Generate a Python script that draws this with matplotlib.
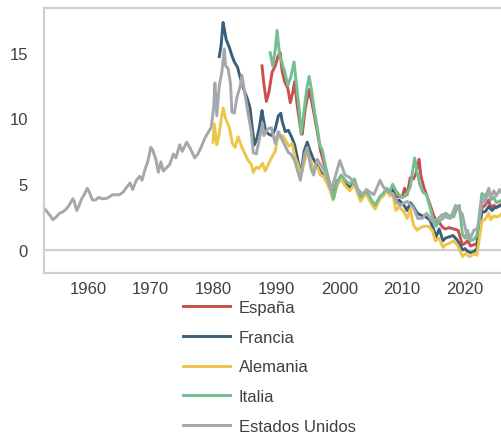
import numpy as np
import matplotlib.pyplot as plt

plt.rcParams['font.family'] = ['Liberation Sans', 'DejaVu Sans']

# rentabilidad del bono a 10 años (%)
us_t = [1953.0, 1953.5, 1954.0, 1954.4, 1954.9, 1955.5, 1956.0, 1956.5, 1957.0, 1957.6,
        1957.8, 1958.2, 1958.6, 1959.0, 1959.5, 1959.9, 1960.3, 1960.7, 1961.2, 1961.7,
        1962.2, 1962.8, 1963.3, 1963.9, 1964.5, 1965.0, 1965.6, 1966.2, 1966.7, 1967.1,
        1967.7, 1968.2, 1968.6, 1969.0, 1969.5, 1970.0, 1970.3, 1970.8, 1971.2, 1971.6,
        1972.0, 1972.6, 1973.0, 1973.6, 1974.0, 1974.6, 1975.0, 1975.7, 1976.3, 1977.0,
        1977.5, 1978.0, 1978.6, 1979.2, 1979.6, 1980.0, 1980.2, 1980.5, 1980.9, 1981.3,
        1981.7, 1981.9, 1982.3, 1982.7, 1982.9, 1983.3, 1983.7, 1984.2, 1984.5, 1985.0,
        1985.5, 1986.0, 1986.3, 1986.8, 1987.3, 1987.8, 1988.0, 1988.6, 1989.2, 1989.8,
        1990.3, 1990.8, 1991.3, 1991.9, 1992.3, 1992.9, 1993.5, 1993.8, 1994.5, 1994.9,
        1995.5, 1995.9, 1996.5, 1997.0, 1997.5, 1998.0, 1998.7, 1999.5, 2000.1, 2000.9,
        2001.7, 2002.3, 2002.8, 2003.8, 2004.3, 2004.9, 2005.5, 2006.5, 2007.0, 2007.6,
        2008.6, 2009.2, 2009.7, 2010.8, 2011.2, 2011.8, 2012.5, 2013.2, 2013.9, 2014.8,
        2015.5, 2016.4, 2017.0, 2017.7, 2018.5, 2019.6, 2020.0, 2020.4, 2020.8, 2021.4,
        2021.9, 2022.3, 2022.8, 2023.2, 2023.8, 2024.1, 2024.6, 2025.0, 2025.5, 2025.9]
us_v = [3.2, 2.9, 2.6, 2.3, 2.5, 2.8, 2.9, 3.1, 3.4, 3.9,
        3.7, 3.0, 3.4, 3.9, 4.3, 4.7, 4.3, 3.8, 3.8, 4.0,
        3.9, 3.9, 4.0, 4.2, 4.2, 4.2, 4.4, 4.8, 5.1, 4.6,
        5.3, 5.6, 5.3, 6.0, 6.7, 7.8, 7.6, 6.9, 5.9, 6.7,
        6.0, 6.3, 6.5, 7.3, 7.0, 8.0, 7.5, 8.2, 7.7, 7.0,
        7.3, 7.8, 8.5, 9.0, 9.3, 10.8, 12.7, 10.2, 12.5, 13.5,
        15.3, 14.0, 13.8, 12.6, 10.5, 10.4, 11.6, 12.4, 13.3, 11.8,
        10.3, 9.0, 7.4, 7.3, 8.5, 9.6, 8.7, 9.2, 9.3, 8.1,
        9.0, 8.5, 8.0, 7.4, 7.3, 6.8, 5.8, 5.3, 7.3, 7.8,
        6.2, 5.7, 6.9, 6.5, 6.1, 5.6, 4.5, 5.8, 6.8, 5.7,
        5.5, 5.1, 4.7, 4.2, 4.6, 4.4, 4.2, 5.3, 4.8, 4.5,
        4.2, 3.6, 3.4, 3.7, 3.5, 3.2, 2.4, 2.4, 2.8, 2.2,
        2.3, 2.7, 2.5, 2.4, 3.4, 2.7, 1.8, 0.9, 0.8, 1.5,
        1.6, 2.2, 4.0, 3.6, 4.7, 4.0, 4.5, 4.1, 4.6, 4.3]

fr_t = [1980.9, 1981.2, 1981.5, 1981.7, 1982.0, 1982.5, 1982.9, 1983.3, 1983.8, 1984.3,
        1984.8, 1985.3, 1985.8, 1986.1, 1986.5, 1986.9, 1987.3, 1987.7, 1987.9, 1988.3,
        1988.8, 1989.3, 1989.8, 1990.3, 1990.7, 1990.9, 1991.4, 1991.9, 1992.4, 1992.9,
        1993.5, 1993.9, 1994.4, 1994.9, 1995.3, 1995.8, 1996.5, 1997.2, 1997.9, 1998.5,
        1999.0, 1999.6, 2000.3, 2000.9, 2001.7, 2002.4, 2003.0, 2003.4, 2004.0, 2004.5,
        2005.0, 2005.7, 2006.5, 2007.0, 2007.5, 2008.1, 2008.5, 2009.0, 2009.5, 2010.3,
        2010.8, 2011.3, 2011.8, 2012.4, 2013.2, 2013.8, 2014.4, 2015.0, 2015.4, 2015.9,
        2016.5, 2016.9, 2017.5, 2018.1, 2018.7, 2019.1, 2019.6, 2020.0, 2020.4, 2020.9,
        2021.5, 2021.9, 2022.3, 2022.7, 2023.2, 2023.8, 2024.3, 2024.7, 2025.2, 2025.9]
fr_v = [14.7, 15.6, 17.3, 16.8, 16.0, 15.4, 14.8, 14.3, 13.9, 13.0,
        12.2, 11.6, 10.8, 9.5, 8.0, 8.5, 9.4, 10.6, 10.0, 9.0,
        8.8, 8.7, 9.2, 10.2, 10.4, 9.8, 9.0, 9.1, 8.6, 8.0,
        6.6, 5.8, 7.5, 8.2, 7.6, 7.0, 6.4, 5.8, 5.4, 4.8,
        3.9, 4.9, 5.5, 5.1, 4.7, 5.1, 4.3, 3.8, 4.3, 4.2,
        3.7, 3.3, 4.0, 4.2, 4.6, 4.3, 4.6, 3.6, 3.8, 3.4,
        3.0, 3.6, 3.3, 2.8, 2.6, 2.5, 2.3, 1.6, 1.0, 1.6,
        0.7, 0.9, 1.0, 1.1, 0.8, 0.5, 0.0, 0.1, -0.1, -0.2,
        -0.1, 0.1, 1.6, 2.9, 2.9, 3.3, 3.0, 3.2, 3.3, 3.4]

de_t = [1979.9, 1980.1, 1980.5, 1980.8, 1981.5, 1981.9, 1982.5, 1983.0, 1983.4, 1983.9,
        1984.5, 1985.0, 1985.5, 1986.0, 1986.3, 1986.8, 1987.2, 1987.8, 1988.2, 1988.7,
        1989.2, 1989.8, 1990.2, 1990.6, 1991.0, 1991.5, 1992.0, 1992.5, 1993.0, 1993.5,
        1993.9, 1994.5, 1994.9, 1995.4, 1995.9, 1996.5, 1997.0, 1997.5, 1998.0, 1998.5,
        1999.0, 1999.6, 2000.3, 2000.9, 2001.7, 2002.4, 2003.0, 2003.4, 2004.0, 2004.5,
        2005.0, 2005.7, 2006.5, 2007.0, 2007.5, 2008.1, 2008.5, 2009.0, 2009.5, 2010.3,
        2010.8, 2011.3, 2011.8, 2012.4, 2012.9, 2013.5, 2014.2, 2014.8, 2015.3, 2015.9,
        2016.5, 2016.9, 2017.5, 2018.2, 2018.9, 2019.6, 2020.0, 2020.4, 2020.8, 2021.4,
        2021.9, 2022.3, 2022.7, 2023.2, 2023.8, 2024.1, 2024.6, 2025.0, 2025.5, 2025.9]
de_v = [8.2, 9.6, 8.0, 8.6, 10.8, 10.0, 9.3, 8.1, 7.8, 8.6,
        7.8, 7.3, 6.8, 6.5, 5.9, 6.3, 6.2, 6.6, 6.0, 6.5,
        7.0, 7.5, 8.5, 8.6, 8.7, 8.3, 7.9, 8.1, 7.0, 6.4,
        5.6, 6.8, 7.4, 6.9, 6.1, 6.3, 5.7, 5.6, 5.1, 4.6,
        3.8, 4.9, 5.4, 4.9, 4.5, 5.0, 4.2, 3.7, 4.2, 4.1,
        3.6, 3.1, 3.9, 4.1, 4.5, 4.1, 4.3, 3.0, 3.3, 2.9,
        2.4, 3.1, 1.9, 1.5, 1.7, 1.8, 1.8, 1.5, 0.7, 0.9,
        0.2, 0.4, 0.5, 0.7, 0.3, -0.5, -0.3, -0.4, -0.5, -0.3,
        -0.4, 0.9, 2.2, 2.3, 2.8, 2.3, 2.6, 2.5, 2.6, 2.8]

es_t = [1987.7, 1988.0, 1988.4, 1988.8, 1989.3, 1989.8, 1990.3, 1990.6, 1990.9, 1991.3,
        1991.8, 1992.2, 1992.6, 1992.9, 1993.3, 1993.8, 1994.1, 1994.6, 1995.2, 1995.6,
        1996.0, 1996.5, 1997.0, 1997.5, 1998.0, 1998.5, 1999.0, 1999.6, 2000.3, 2000.9,
        2001.7, 2002.4, 2003.0, 2003.4, 2004.0, 2004.5, 2005.0, 2005.7, 2006.5, 2007.0,
        2007.5, 2008.1, 2008.5, 2009.0, 2009.5, 2010.0, 2010.4, 2010.8, 2011.3, 2011.8,
        2012.2, 2012.7, 2013.0, 2013.5, 2013.9, 2014.4, 2014.9, 2015.4, 2015.9, 2016.5,
        2016.9, 2017.5, 2018.2, 2018.9, 2019.6, 2020.0, 2020.4, 2020.9, 2021.4, 2021.9,
        2022.3, 2022.7, 2023.2, 2023.8, 2024.1, 2024.6, 2025.0, 2025.5, 2025.9]
es_v = [14.0, 12.6, 11.3, 12.0, 13.5, 14.0, 14.8, 15.0, 13.6, 12.8,
        12.3, 11.2, 12.0, 12.8, 11.0, 9.3, 8.8, 10.8, 12.2, 11.3,
        10.3, 9.0, 7.6, 6.7, 5.8, 5.0, 4.2, 5.2, 5.6, 5.3,
        4.9, 5.3, 4.4, 3.9, 4.3, 4.3, 3.8, 3.3, 4.0, 4.2,
        4.6, 4.3, 4.8, 4.0, 4.1, 4.0, 4.7, 4.2, 5.5, 5.4,
        5.8, 6.9, 5.6, 4.7, 4.2, 3.5, 2.8, 2.2, 2.1, 1.7,
        1.6, 1.7, 1.6, 1.5, 0.4, 0.5, 0.7, 0.3, 0.4, 0.5,
        2.0, 3.2, 3.4, 3.8, 3.2, 3.4, 3.2, 3.4, 3.5]

it_t = [1989.0, 1989.4, 1989.8, 1990.1, 1990.5, 1990.9, 1991.3, 1991.8, 1992.3, 1992.8,
        1993.2, 1993.6, 1993.9, 1994.4, 1994.8, 1995.2, 1995.6, 1996.0, 1996.5, 1996.9,
        1997.3, 1997.8, 1998.3, 1998.8, 1999.1, 1999.6, 2000.3, 2000.9, 2001.7, 2002.4,
        2003.0, 2003.4, 2004.0, 2004.5, 2005.0, 2005.7, 2006.5, 2007.0, 2007.5, 2008.1,
        2008.5, 2009.0, 2009.5, 2010.0, 2010.5, 2010.9, 2011.3, 2011.6, 2012.0, 2012.4,
        2012.8, 2013.3, 2013.9, 2014.3, 2014.9, 2015.4, 2015.9, 2016.5, 2016.9, 2017.5,
        2018.2, 2018.7, 2019.1, 2019.6, 2020.0, 2020.4, 2020.9, 2021.4, 2021.9, 2022.3,
        2022.7, 2023.2, 2023.8, 2024.1, 2024.6, 2025.0, 2025.5, 2025.9]
it_v = [15.0, 14.0, 15.2, 16.7, 14.8, 14.2, 13.6, 12.5, 13.2, 14.3,
        12.5, 10.8, 8.8, 10.6, 12.2, 13.2, 12.1, 10.7, 9.3, 8.0,
        7.6, 6.4, 5.4, 4.5, 3.9, 5.1, 5.7, 5.3, 5.0, 5.4,
        4.5, 4.0, 4.4, 4.4, 3.9, 3.4, 4.1, 4.3, 4.7, 4.5,
        5.0, 4.5, 4.2, 4.0, 4.1, 4.4, 4.8, 5.8, 7.0, 5.9,
        5.0, 4.4, 4.2, 3.5, 2.4, 1.8, 2.2, 2.4, 2.8, 2.6,
        2.5, 3.2, 3.4, 1.2, 0.9, 1.5, 0.7, 0.8, 1.1, 2.7,
        4.3, 4.1, 4.6, 3.8, 4.0, 3.6, 3.7, 3.8]

labels = ['España', 'Francia', 'Alemania', 'Italia', 'Estados Unidos']
colors = ['#c8504e', '#3a5f7a', '#ecc54a', '#72bf90', '#a4a8ad']
series = [(es_t, es_v), (fr_t, fr_v), (de_t, de_v), (it_t, it_v), (us_t, us_v)]

fig = plt.figure(figsize=(5.02, 4.39), dpi=100)
ax = fig.add_axes([44 / 502, 1 - 274 / 439, 1 - 44 / 502, 265 / 439])

for (t, v), lab, col in zip(series, labels, colors):
    ax.plot(t, v, color=col, lw=2.1, label=lab, solid_joinstyle='round')

ax.axhline(0, color='#cfcfcf', lw=1.6, zorder=0)
ax.set_xlim(1953, 2025.9)
ax.set_ylim(-1.75, 18.4)
ax.set_xticks(range(1960, 2030, 10))
ax.set_yticks([0, 5, 10, 15])
ax.tick_params(length=0, labelsize=12, labelcolor='#404040')
ax.tick_params(axis='x', pad=6)
ax.tick_params(axis='y', pad=11.5)
for side in ['left', 'top', 'bottom']:
    ax.spines[side].set_color('#cfcfcf')
    ax.spines[side].set_linewidth(1.6)
ax.spines['right'].set_visible(False)

fig.legend(loc='upper left', bbox_to_anchor=(183 / 502, 1 - 301 / 439),
           frameon=False, fontsize=12, handlelength=2.8, handletextpad=0.55,
           labelspacing=0.88, borderpad=0, borderaxespad=0, labelcolor='#404040')

fig.savefig('out.png', dpi=100)
